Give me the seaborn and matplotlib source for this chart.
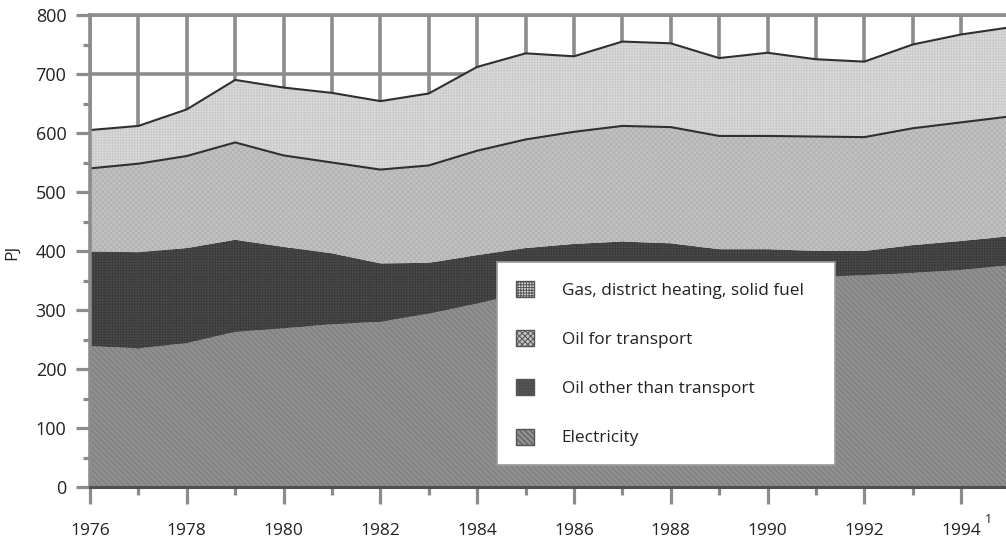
import matplotlib
matplotlib.use("Agg")
import matplotlib.pyplot as plt
import numpy as np
import pandas as pd
import seaborn as sns
from matplotlib.patches import Patch
from matplotlib.ticker import FixedLocator

# ---------------- data ----------------
years = list(range(1976, 1996))
electricity = [239, 235, 244, 263, 269, 276, 280, 294, 311, 330,
               338, 343, 347, 350, 353, 356, 359, 363, 368, 376]
oil_other = [160, 163, 161, 156, 138, 120, 99, 86, 82, 75,
             74, 73, 66, 53, 50, 44, 41, 47, 49, 49]
oil_transport = [141, 150, 156, 165, 155, 154, 159, 165, 177, 184,
                 190, 196, 197, 192, 192, 194, 193, 198, 201, 203]
gas_heat_solid = [65, 64, 79, 106, 115, 118, 116, 122, 142, 146,
                  128, 143, 142, 132, 141, 131, 128, 142, 149, 151]
series_names = ["Electricity", "Oil other than transport",
                "Oil for transport", "Gas, district heating, solid fuel"]
x_major_years = [1976, 1978, 1980, 1982, 1984, 1986, 1988, 1990, 1992, 1994]
x_major_labels = ["1976", "1978", "1980", "1982", "1984", "1986",
                  "1988", "1990", "1992", "1994"]
footnote_mark = "1"
x_minor_years = [1977, 1979, 1981, 1983, 1985, 1987, 1989, 1991, 1993]
y_major = [0, 100, 200, 300, 400, 500, 600, 700, 800]
y_minor = [50, 150, 250, 350, 450, 550, 650, 750]
y_label = "PJ"

# ---------------- style ----------------
sns.set_theme(style="white")
plt.rcParams["font.family"] = ["Open Sans", "DejaVu Sans"]
plt.rcParams["hatch.linewidth"] = 0.7

grid_gray = "#8c8c8c"
text_col = "#222222"
fills = {
    "Electricity": dict(face="#8f8f8f", hatch="\\\\\\\\\\\\", hcol="#7c7c7c"),
    "Oil other than transport": dict(face="#4b4b4b", hatch="++++++", hcol="#3c3c3c"),
    "Oil for transport": dict(face="#c2c2c2", hatch="xxxxxx", hcol="#b2b2b2"),
    "Gas, district heating, solid fuel": dict(face="#dcdcdc", hatch="++++++", hcol="#cbcbcb"),
}

df = pd.DataFrame({"year": years,
                   series_names[0]: electricity,
                   series_names[1]: oil_other,
                   series_names[2]: oil_transport,
                   series_names[3]: gas_heat_solid})
cum = df[series_names].cumsum(axis=1)

fig = plt.figure(figsize=(10.06, 5.40), dpi=100)
ax = fig.add_axes([90 / 1006, 53 / 540, 919.5 / 1006, 472 / 540])

lower = np.zeros(len(years))
for name in series_names:
    upper = cum[name].to_numpy()
    st = fills[name]
    ax.fill_between(df["year"], lower, upper, facecolor=st["face"],
                    edgecolor=st["hcol"], hatch=st["hatch"], linewidth=0,
                    zorder=1)
    lower = upper

# boundary lines
line_df = pd.DataFrame({"year": years,
                        "transport_top": cum[series_names[2]],
                        "total": cum[series_names[3]]})
sns.lineplot(data=line_df, x="year", y="transport_top", ax=ax,
             color="#303030", lw=1.5, zorder=2)
sns.lineplot(data=line_df, x="year", y="total", ax=ax,
             color="#303030", lw=1.5, zorder=2)

ax.set_xlim(1976, 1995)
ax.set_ylim(0, 800)

ax.xaxis.set_major_locator(FixedLocator(x_major_years))
ax.xaxis.set_minor_locator(FixedLocator(x_minor_years))
ax.set_xticklabels(x_major_labels)
ax.yaxis.set_major_locator(FixedLocator(y_major))
ax.yaxis.set_minor_locator(FixedLocator(y_minor))
ax.set_yticklabels([str(v) for v in y_major])

ax.set_axisbelow(True)
ax.xaxis.grid(True, which="both", color=grid_gray, lw=2.6)
ax.yaxis.grid(True, which="major", color=grid_gray, lw=2.6)

ax.tick_params(axis="y", which="major", left=True, length=10, width=2.3,
               color=grid_gray, pad=7, labelsize=13, labelcolor=text_col)
ax.tick_params(axis="y", which="minor", left=True, length=5, width=2.3,
               color=grid_gray)
ax.tick_params(axis="x", which="major", bottom=True, length=12, width=2.3,
               color=grid_gray, pad=14, labelsize=12.5, labelcolor=text_col)
ax.tick_params(axis="x", which="minor", bottom=True, length=6, width=2.3,
               color=grid_gray)

# footnote superscript after the last year label
ax.annotate(footnote_mark, xy=(x_major_years[-1], 0),
            xycoords=("data", "axes fraction"), xytext=(17, -19),
            textcoords="offset points", ha="left", va="top",
            fontsize=9, color=text_col, annotation_clip=False)

for side in ["top", "left"]:
    ax.spines[side].set_color(grid_gray)
    ax.spines[side].set_linewidth(2.6)
ax.spines["right"].set_visible(False)
ax.spines["bottom"].set_color("#505050")
ax.spines["bottom"].set_linewidth(2.2)

ax.set_xlabel("")
ax.set_ylabel("")
fig.text(12 / 1006, 1 - 252 / 540, y_label, rotation=90, ha="center",
         va="center", fontsize=12.5, color=text_col)

# legend (top series first)
handles = []
for name in reversed(series_names):
    st = fills[name]
    handles.append(Patch(facecolor=st["face"], edgecolor="#555555",
                         hatch=st["hatch"], linewidth=1.0, label=name))
leg = ax.legend(handles=handles, loc="upper left",
                bbox_to_anchor=(407 / 919.5, 24 / 472, 338 / 919.5, 201 / 472),
                mode="expand", fontsize=12.4, frameon=True, fancybox=False,
                framealpha=1, edgecolor="#9a9a9a", borderpad=1.1,
                handlelength=1.05, handleheight=1.05, handletextpad=1.6,
                labelspacing=1.82, borderaxespad=0)
leg.get_frame().set_linewidth(1.2)
for t in leg.get_texts():
    t.set_color(text_col)

fig.savefig("out.png", dpi=100)
